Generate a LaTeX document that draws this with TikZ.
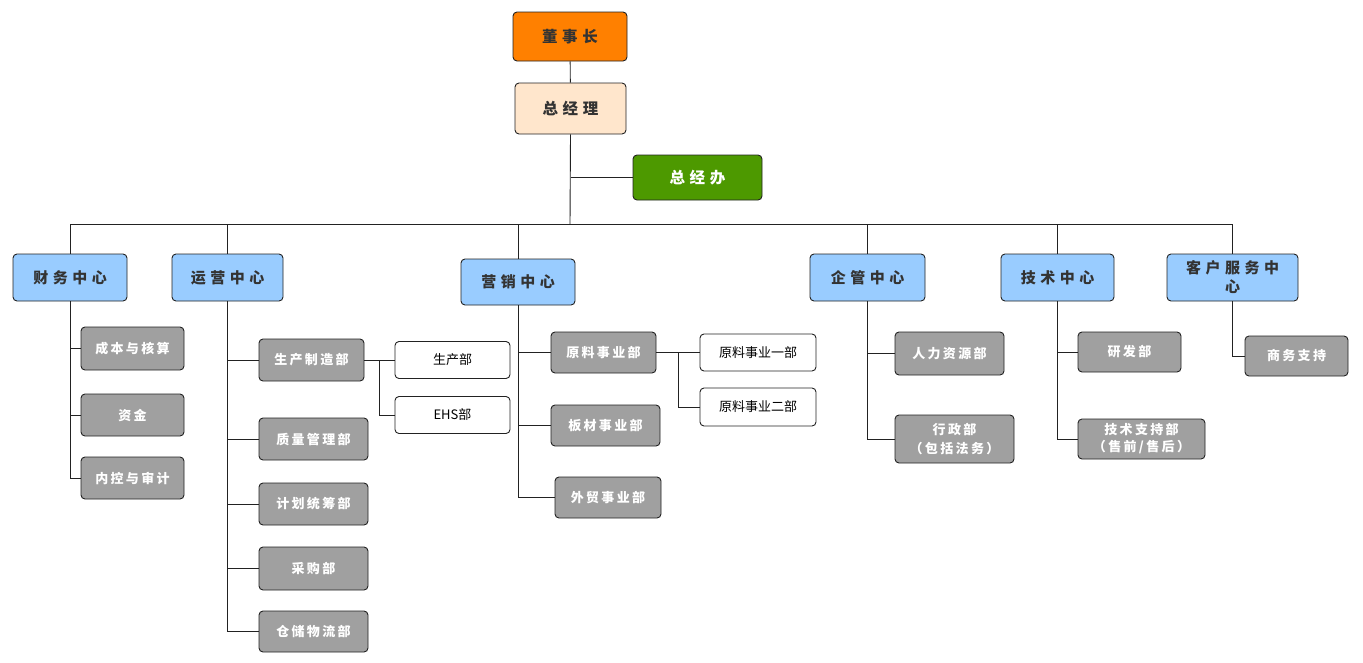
\documentclass[tikz,border=0pt]{standalone}
\usepackage{fontspec}
\usepackage{tikz}
\usetikzlibrary{calc,positioning}
\newfontfamily\cjk{Noto Sans CJK SC}
\newfontfamily\cjkgap[LetterSpace=18]{Noto Sans CJK SC}
\newfontfamily\cjkwide[LetterSpace=30]{Noto Sans CJK SC}
\definecolor{OrgOrange}{HTML}{FF8000}
\definecolor{OrgPeach}{HTML}{FFE6CC}
\definecolor{OrgGreen}{HTML}{4D9900}
\definecolor{OrgBlue}{HTML}{99CCFF}
\definecolor{OrgGray}{HTML}{A0A0A0}
\definecolor{OrgText}{HTML}{333333}
\definecolor{OrgLine}{HTML}{222222}

\begin{document}
\begin{tikzpicture}[
  x=1pt,y=-1pt,
  link/.style={draw=OrgLine,line width=0.9pt},
  box/.style={draw=OrgLine,rounded corners=4pt,line width=0.9pt,
    align=center,inner sep=2pt},
  top/.style={box,font=\cjkwide\bfseries\fontsize{15.5}{17}\selectfont,text=OrgText},
  center/.style={box,fill=OrgBlue,minimum height=47pt,
    font=\cjkwide\bfseries\fontsize{15}{17}\selectfont,text=OrgText},
  dept/.style={box,fill=OrgGray,minimum height=42pt,
    font=\cjkgap\bfseries\fontsize{13}{16}\selectfont,text=white},
  unit/.style={box,fill=white,minimum width=115pt,minimum height=37pt,
    font=\cjk\fontsize{13}{15}\selectfont,text=black}
]
\useasboundingbox (0,0) rectangle (1363,662);

% top of the chart
\node[top,fill=OrgOrange,minimum width=114pt,minimum height=49pt] (chair) at (570,36.5) {董事长};
\node[top,fill=OrgPeach,minimum width=111pt,minimum height=51pt] (gm) at (570.5,108.5) {总经理};
\node[top,fill=OrgGreen,text=white,minimum width=129pt,minimum height=45pt] (office) at (697.5,177.5) {总经办};
\coordinate (bus) at (570,224);

% centres
\node[center,minimum width=114pt] (fin) at (70,277.5) {财务中心};
\node[center,minimum width=111pt] (ops) at (227.5,277.5) {运营中心};
\node[center,minimum width=114pt,minimum height=46pt] (mkt) at (518,282) {营销中心};
\node[center,minimum width=115pt] (adm) at (867.5,277.5) {企管中心};
\node[center,minimum width=113pt] (tech) at (1057.5,277.5) {技术中心};
\node[center,minimum width=131pt,font=\cjkwide\bfseries\fontsize{15}{19}\selectfont] (svc) at (1232.5,277.5) {客户服务中\\心};

% departments
\node[dept,minimum width=103pt,minimum height=43pt] (cost) at (132.5,348.5) {成本与核算};
\node[dept,minimum width=103pt] (fund) at (132.5,415) {资金};
\node[dept,minimum width=103pt] (audit) at (132.5,478) {内控与审计};

\node[dept,minimum width=105pt] (mfg) at (311.5,360) {生产制造部};
\node[dept,minimum width=109pt] (qual) at (313.5,439) {质量管理部};
\node[dept,minimum width=109pt] (plan) at (313.5,504) {计划统筹部};
\node[dept,minimum width=109pt,minimum height=43pt] (buy) at (313.5,568.5) {采购部};
\node[dept,minimum width=109pt,minimum height=41pt] (store) at (313.5,631.5) {仓储物流部};
\node[unit] (prod) at (452.5,360) {生产部};
\node[unit] (ehs) at (452.5,415) {EHS部};

\node[dept,minimum width=105pt,minimum height=41pt] (raw) at (603.5,352.5) {原料事业部};
\node[dept,minimum width=109pt,minimum height=41pt] (sheet) at (605.5,425.5) {板材事业部};
\node[dept,minimum width=106pt,minimum height=41pt] (trade) at (608,497.5) {外贸事业部};
\node[unit,minimum width=116pt] (rawa) at (758,352.5) {原料事业一部};
\node[unit,minimum width=116pt,minimum height=38pt] (rawb) at (758,407) {原料事业二部};

\node[dept,minimum width=109pt,minimum height=43pt] (hr) at (949.5,353.5) {人力资源部};
\node[dept,minimum width=119pt,minimum height=48pt,font=\cjkgap\bfseries\fontsize{13}{19}\selectfont] (law) at (954.5,439) {行政部\\（包括法务）};
\node[dept,minimum width=103pt,minimum height=40pt] (rd) at (1129.5,352) {研发部};
\node[dept,minimum width=127pt,minimum height=40pt,font=\cjkgap\bfseries\fontsize{13}{17}\selectfont] (sup) at (1141.5,439) {技术支持部\\（售前/售后）};
\node[dept,minimum width=103pt,minimum height=40pt] (biz) at (1296.5,356) {商务支持};

% connectors
\draw[link] (chair) -- (gm);
\draw[link] (gm.south) -- (bus);
\draw[link] (gm.south |- office.west) -- (office.west);
\foreach \c in {fin,ops,mkt,adm,tech,svc}
  \draw[link] (bus) -| (\c.north);

\foreach \d in {cost,fund,audit}
  \draw[link] (fin.south) |- (\d.west);
\foreach \d in {mfg,qual,plan,buy,store}
  \draw[link] (ops.south) |- (\d.west);
\foreach \d in {raw,sheet,trade}
  \draw[link] (mkt.south) |- (\d.west);
\foreach \d in {hr,law}
  \draw[link] (adm.south) |- (\d.west);
\foreach \d in {rd,sup}
  \draw[link] (tech.south) |- (\d.west);
\draw[link] (svc.south) |- (biz.west);

\coordinate (mfgsplit) at ($(mfg.east)!0.5!(prod.west)$);
\draw[link] (mfg.east) -- (prod.west);
\draw[link] (mfgsplit) |- (ehs.west);
\coordinate (rawsplit) at ($(raw.east)!0.5!(rawa.west)$);
\draw[link] (raw.east) -- (rawa.west);
\draw[link] (rawsplit) |- (rawb.west);

\end{tikzpicture}
\end{document}
